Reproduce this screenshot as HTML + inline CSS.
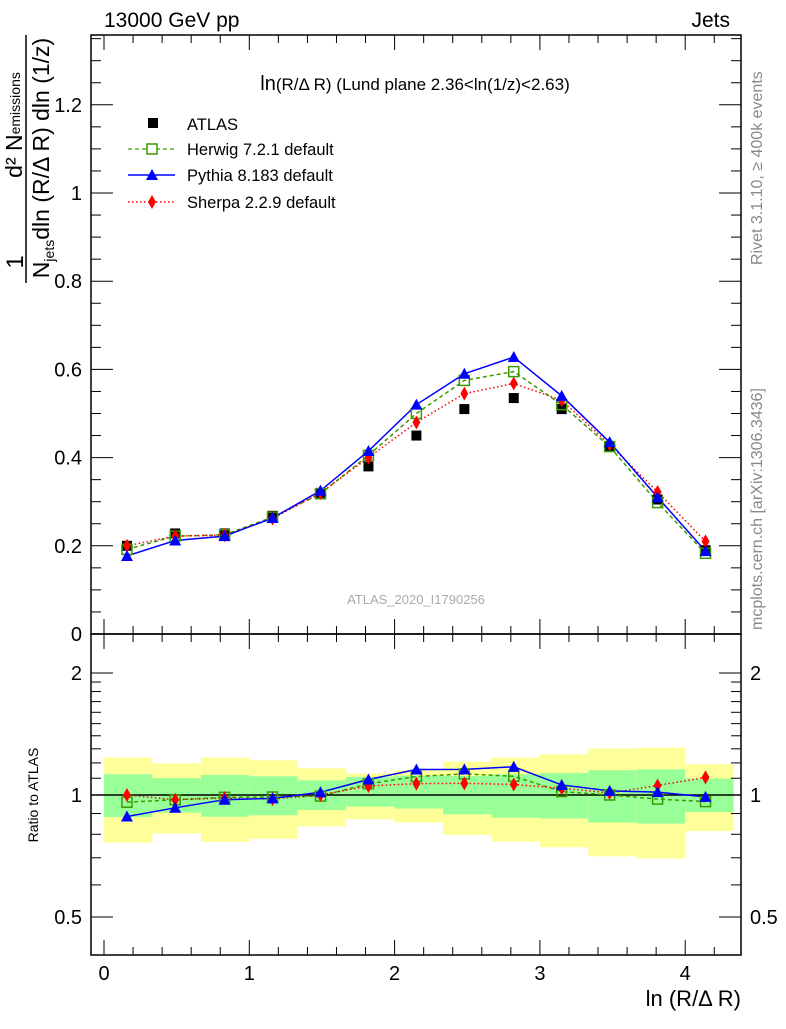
<!DOCTYPE html>
<html><head><meta charset="utf-8"><style>
body{margin:0;background:#fff;width:786px;height:1024px;overflow:hidden}
svg{font-family:"Liberation Sans",sans-serif}
</style></head><body>
<svg id="c" width="786" height="1024">
<g id="bands"></g>
<g id="grid"></g>
<g id="series"></g>
<text x="104" y="27" font-size="21">13000 GeV pp</text>
<text x="730" y="27" font-size="21" text-anchor="end">Jets</text>
<text x="415" y="90" font-size="17" text-anchor="middle"><tspan font-size="20">ln</tspan>(R/Δ R) (Lund plane 2.36&lt;ln(1/z)&lt;2.63)</text>
<text x="416" y="604" font-size="13" fill="#aaa" text-anchor="middle">ATLAS_2020_I1790256</text>
<text transform="translate(762,265) rotate(-90)" font-size="16" fill="#888">Rivet 3.1.10, ≥ 400k events</text>
<text transform="translate(762,630) rotate(-90)" font-size="16" fill="#888">mcplots.cern.ch [arXiv:1306.3436]</text>
<g>
<text transform="translate(23,262) rotate(-90)" font-size="24" text-anchor="middle">1</text>
<line x1="26" y1="35" x2="26" y2="283" stroke="#000" stroke-width="1.5"/>
<text transform="translate(22,125) rotate(-90)" font-size="23" text-anchor="middle">d² N<tspan font-size="14" dy="-2">emissions</tspan></text>
<text transform="translate(49,158) rotate(-90)" font-size="23" text-anchor="middle">N<tspan font-size="14" dy="5">jets</tspan><tspan dy="-5">dln (R/Δ R) dln (1/z)</tspan></text>
</g>
<text transform="translate(38,795) rotate(-90)" font-size="14" text-anchor="middle">Ratio to ATLAS</text>
<text x="741" y="1006" font-size="22" text-anchor="end">ln (R/Δ R)</text>
<g>
<rect x="148" y="118" width="10" height="10" fill="#000"/>
<text x="187" y="130" font-size="16.5">ATLAS</text>
<line x1="128" y1="149" x2="175" y2="149" stroke="#3a9a00" stroke-dasharray="4,3" stroke-width="1.3"/>
<rect x="147" y="144" width="10" height="10" fill="#fff" stroke="#3a9a00" stroke-width="1.5"/>
<text x="187" y="155" font-size="16.5">Herwig 7.2.1 default</text>
<line x1="128" y1="175" x2="175" y2="175" stroke="#00f" stroke-width="1.5"/>
<polygon points="152,169 158,180 146,180" fill="#00f"/>
<text x="187" y="181" font-size="16.5">Pythia 8.183 default</text>
<line x1="128" y1="202" x2="175" y2="202" stroke="#f00" stroke-dasharray="1.5,2.5" stroke-width="1.5"/>
<polygon points="152,195 156,202 152,209 148,202" fill="#f00"/>
<text x="187" y="208" font-size="16.5">Sherpa 2.2.9 default</text>
</g>
</svg>
<script>
const binEdges=[0,0.333,0.667,1.0,1.333,1.667,2.0,2.333,2.667,3.0,3.333,3.667,4.0,4.333];
const xCenters=[0.158,0.49,0.83,1.16,1.49,1.82,2.15,2.48,2.82,3.15,3.48,3.81,4.14];
const atlas=[0.200,0.228,0.228,0.268,0.320,0.380,0.450,0.510,0.535,0.510,0.425,0.305,0.190];
const herwig=[0.192,0.222,0.225,0.265,0.318,0.405,0.500,0.575,0.595,0.520,0.425,0.298,0.183];
const pythia=[0.177,0.212,0.222,0.263,0.325,0.415,0.520,0.590,0.628,0.540,0.435,0.310,0.188];
const sherpa=[0.200,0.222,0.224,0.262,0.320,0.400,0.480,0.545,0.568,0.530,0.430,0.322,0.210];
const yellowHi=[1.237,1.197,1.237,1.218,1.164,1.131,1.151,1.209,1.237,1.26,1.302,1.309,1.191];
const yellowLo=[0.763,0.804,0.766,0.78,0.837,0.871,0.855,0.797,0.767,0.743,0.706,0.697,0.815];
const greenHi=[1.125,1.100,1.121,1.112,1.087,1.108,1.117,1.114,1.125,1.133,1.151,1.157,1.098];
const greenLo=[0.882,0.905,0.884,0.891,0.918,0.936,0.926,0.896,0.879,0.875,0.855,0.850,0.908];
const xTicks=[0,1,2,3,4];
const yTicks=[0,0.2,0.4,0.6,0.8,1,1.2];
const yTickLabels=["0","0.2","0.4","0.6","0.8","1","1.2"];
const rTicks=[0.5,1,2];
const rTickLabels=["0.5","1","2"];

const NS="http://www.w3.org/2000/svg";
const L=91,R=741,T=35,MB=634,RB=955;
const X=v=>104+v*145.3;
const Y=v=>634-v*441;
const RY=v=>795-Math.log(v)*176;
function mk(p,tag,a){const e=document.createElementNS(NS,tag);for(const k in a)e.setAttribute(k,a[k]);p.appendChild(e);return e;}
const bands=document.getElementById('bands'),grid=document.getElementById('grid'),ser=document.getElementById('series');

for(let i=0;i<xCenters.length;i++){
  const x0=X(binEdges[i]),x1=X(binEdges[i+1]);
  const y=mk(bands,'rect',{x:x0,y:RY(yellowHi[i]),width:x1-x0,height:RY(yellowLo[i])-RY(yellowHi[i]),fill:'#ffff99'});
  
  
  const g=mk(bands,'rect',{x:x0,y:RY(greenHi[i]),width:x1-x0,height:RY(greenLo[i])-RY(greenHi[i]),fill:'#99ff99'});
  
  
}
mk(grid,'rect',{x:L,y:T,width:R-L,height:MB-T,fill:'none',stroke:'#000','stroke-width':1.5});
mk(grid,'rect',{x:L,y:MB,width:R-L,height:RB-MB,fill:'none',stroke:'#000','stroke-width':1.5});
mk(grid,'line',{x1:L,x2:R,y1:RY(1),y2:RY(1),stroke:'#000','stroke-width':1.5});
for(let k=0;k<=22;k++){
  const v=k*0.2,maj=(k%5===0),x=X(v),l=maj?15:8;
  if(x>R)break;
  [[T,1],[MB,-1],[MB,1],[RB,-1]].forEach(([y0,d])=>mk(grid,'line',{x1:x,x2:x,y1:y0,y2:y0+d*l,stroke:'#000'}));
}
xTicks.forEach(v=>{
  const t=mk(grid,'text',{x:X(v),y:980,'font-size':20,'text-anchor':'middle'});t.textContent=v;
  
  
});
for(let k=0;k<=27;k++){
  const v=k*0.05,maj=(k%4===0),y=Y(v),l=maj?22:10;
  mk(grid,'line',{x1:L,x2:L+l,y1:y,y2:y,stroke:'#000'});mk(grid,'line',{x1:R,x2:R-l,y1:y,y2:y,stroke:'#000'});
}
yTicks.forEach((v,i)=>{
  const t=mk(grid,'text',{x:82,y:Y(v)+7,'font-size':20,'text-anchor':'end'});t.textContent=yTickLabels[i];
  
  
});
[0.5,0.6,0.7,0.8,0.9,1,1.1,1.2,1.3,1.4,1.5,1.6,1.7,1.8,1.9,2].forEach(v=>{
  const maj=rTicks.includes(v),y=RY(v),l=maj?22:10;
  mk(grid,'line',{x1:L,x2:L+l,y1:y,y2:y,stroke:'#000'});mk(grid,'line',{x1:R,x2:R-l,y1:y,y2:y,stroke:'#000'});
});
rTicks.forEach((v,i)=>{
  const t=mk(grid,'text',{x:82,y:RY(v)+7,'font-size':20,'text-anchor':'end'});t.textContent=rTickLabels[i];
  
  
  const t2=mk(grid,'text',{x:750,y:RY(v)+7,'font-size':20});t2.textContent=rTickLabels[i];
  
  
});

function marker(p,kind,x,y,name){
  let e;
  if(kind==='sq')e=mk(p,'rect',{x:x-5,y:y-5,width:10,height:10,fill:'#000'});
  else if(kind==='osq')e=mk(p,'rect',{x:x-5,y:y-5,width:10,height:10,fill:'none',stroke:'#3a9a00','stroke-width':1.5});
  else if(kind==='tri')e=mk(p,'polygon',{points:`${x},${y-6} ${x+6},${y+5} ${x-6},${y+5}`,fill:'#00f'});
  else e=mk(p,'polygon',{points:`${x},${y-7} ${x+4},${y} ${x},${y+7} ${x-4},${y}`,fill:'#f00'});
  
  
}
const models=[[herwig,'#3a9a00','4,3','osq','herwig'],[sherpa,'#f00','1.5,2.5','dia','sherpa'],[pythia,'#00f','','tri','pythia']];
models.forEach(([d,c,da,k,n])=>{
  const pts=d.map((v,i)=>X(xCenters[i])+','+Y(v)).join(' ');
  const pl=mk(ser,'polyline',{points:pts,fill:'none',stroke:c,'stroke-width':1.5,'stroke-dasharray':da});
  
  
  const rp=d.map((v,i)=>X(xCenters[i])+','+RY(v/atlas[i])).join(' ');
  const rl=mk(ser,'polyline',{points:rp,fill:'none',stroke:c,'stroke-width':1.5,'stroke-dasharray':da});
  
  
});
atlas.forEach((v,i)=>marker(ser,'sq',X(xCenters[i]),Y(v),'atlas-point'));
models.forEach(([d,c,da,k,n])=>d.forEach((v,i)=>{
  marker(ser,k,X(xCenters[i]),Y(v),n+'-point');
  marker(ser,k,X(xCenters[i]),RY(v/atlas[i]),n+'-ratio-point');
}));
</script>
</body></html>
